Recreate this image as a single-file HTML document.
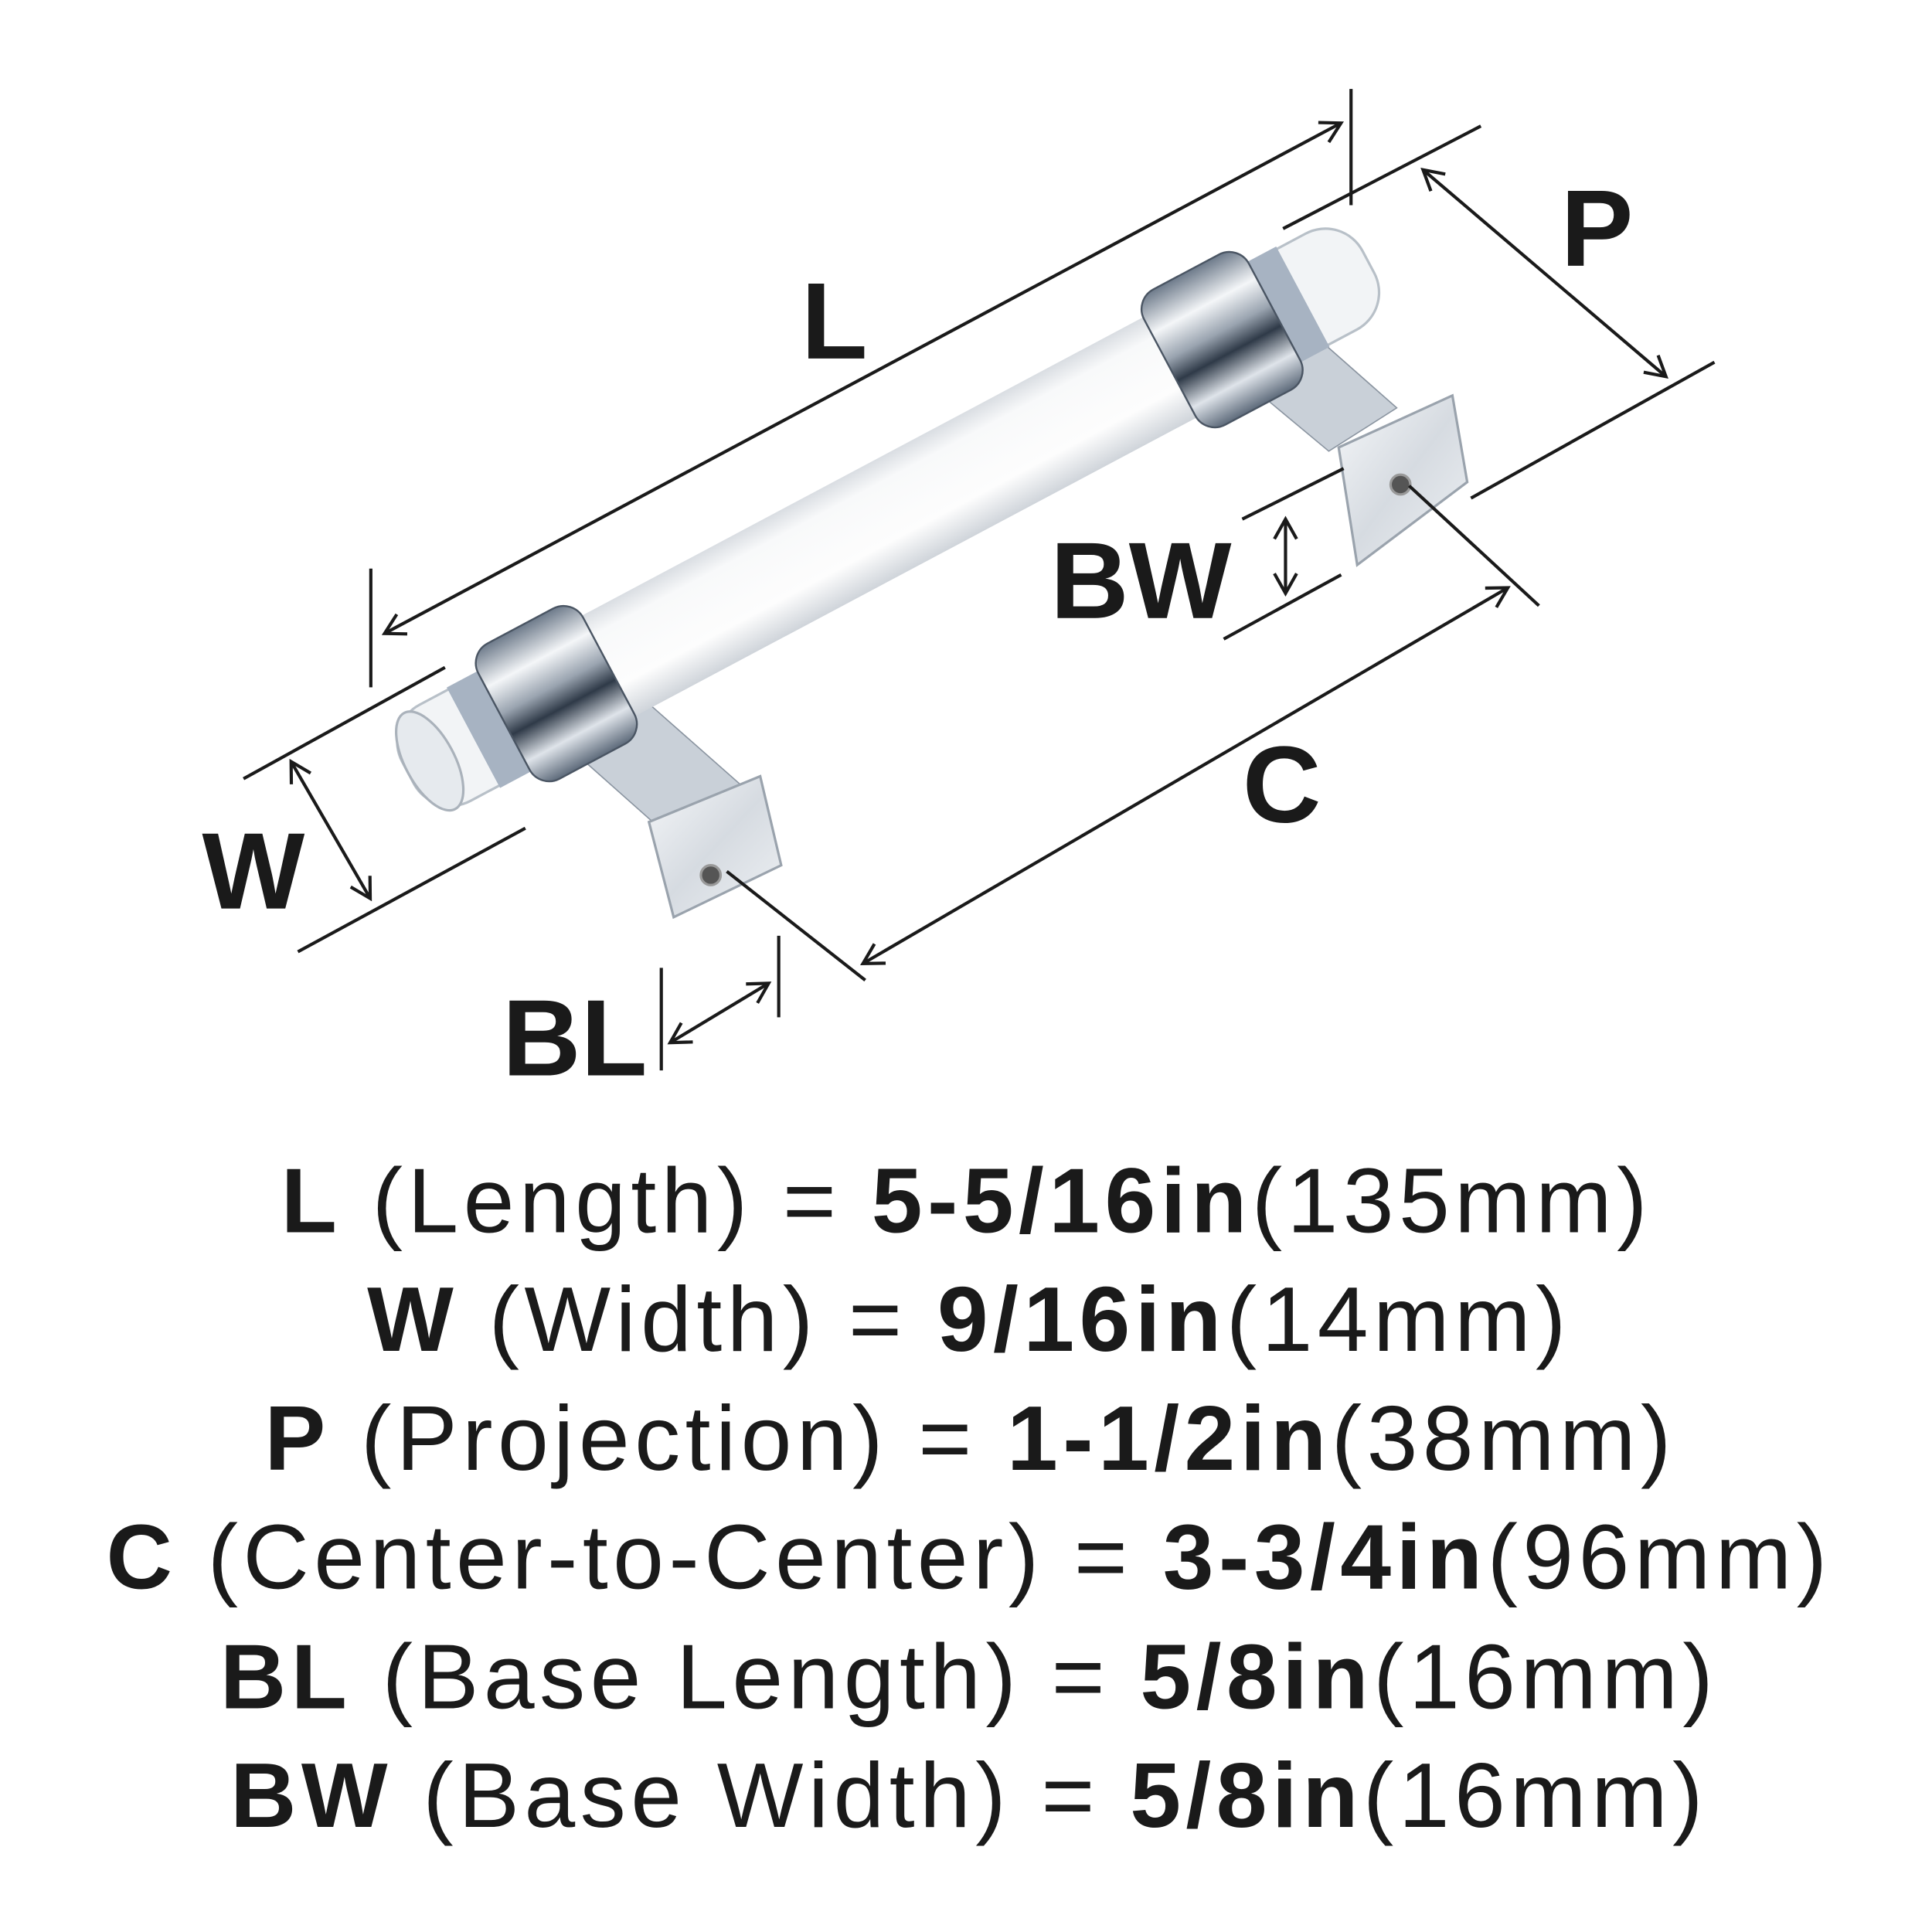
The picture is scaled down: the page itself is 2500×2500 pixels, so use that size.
<!DOCTYPE html>
<html><head><meta charset="utf-8"><style>
html,body{margin:0;padding:0;background:#fff;}
svg{display:block;}
</style></head><body>
<svg width="2500" height="2500" viewBox="0 0 1563 1563" xmlns="http://www.w3.org/2000/svg">
<defs>
<marker id="ah" markerWidth="22" markerHeight="22" refX="17" refY="11" orient="auto-start-reverse" markerUnits="userSpaceOnUse">
<path d="M2,2 L18,11 L2,20" fill="none" stroke="#1a1a1a" stroke-width="2.6"/>
</marker>
<linearGradient id="chrome" x1="0" y1="0" x2="0" y2="1">
<stop offset="0" stop-color="#6d7a8a"/><stop offset="0.25" stop-color="#f4f6f8"/><stop offset="0.45" stop-color="#9aa4b0"/><stop offset="0.6" stop-color="#2f3a48"/><stop offset="0.8" stop-color="#dfe4ea"/><stop offset="1" stop-color="#5d6a7a"/>
</linearGradient>
<linearGradient id="rod" x1="0" y1="0" x2="0" y2="1">
<stop offset="0" stop-color="#d9dde2"/><stop offset="0.2" stop-color="#f8f9fa"/><stop offset="0.7" stop-color="#fdfdfd"/><stop offset="1" stop-color="#cfd4da"/>
</linearGradient>
<linearGradient id="plate" x1="0" y1="0" x2="1" y2="1">
<stop offset="0" stop-color="#f5f7f9"/><stop offset="0.5" stop-color="#d6dbe1"/><stop offset="1" stop-color="#eef1f4"/>
</linearGradient>
</defs>

<polygon points="455,600 520,565 605,640 545,680" fill="#c9d0d8" stroke="#8a94a0" stroke-width="1"/>
<polygon points="985,290 1045,255 1130,330 1075,365" fill="#c9d0d8" stroke="#8a94a0" stroke-width="1"/>
<polygon points="525,665 615,628 632,700 545,742" fill="url(#plate)" stroke="#9aa3ad" stroke-width="2"/>
<polygon points="1083,362 1175,320 1187,390 1098,457" fill="url(#plate)" stroke="#9aa3ad" stroke-width="2"/>
<circle cx="575" cy="708" r="8" fill="#555" stroke="#999" stroke-width="2"/>
<circle cx="1133" cy="392" r="8" fill="#555" stroke="#999" stroke-width="2"/>

<g transform="translate(330,625) rotate(-28)">
<rect x="0" y="-44" width="880" height="88" rx="34" fill="#f2f4f6" stroke="#b8c0c8" stroke-width="2"/>
<rect x="170" y="-46" width="560" height="92" fill="url(#rod)"/>
<ellipse cx="20" cy="0" rx="20" ry="44" fill="#e6eaee" stroke="#aab2bb" stroke-width="2"/>
<rect x="60" y="-46" width="30" height="92" fill="#a7b3c2"/>
<rect x="790" y="-46" width="30" height="92" fill="#a7b3c2"/>
<rect x="88" y="-62" width="96" height="124" rx="18" fill="url(#chrome)" stroke="#4a5563" stroke-width="1.5"/>
<rect x="698" y="-62" width="96" height="124" rx="18" fill="url(#chrome)" stroke="#4a5563" stroke-width="1.5"/>
</g>

<g stroke="#1a1a1a" stroke-width="2.6" fill="none">
<line x1="312" y1="512" x2="1084" y2="100" marker-start="url(#ah)" marker-end="url(#ah)"/>
<line x1="300" y1="460" x2="300" y2="556"/>
<line x1="1093" y1="72" x2="1093" y2="166"/>
<line x1="1152" y1="138" x2="1347" y2="304" marker-start="url(#ah)" marker-end="url(#ah)"/>
<line x1="1038" y1="185" x2="1198" y2="102"/>
<line x1="1190" y1="403" x2="1387" y2="293"/>
<line x1="236" y1="617" x2="299" y2="726" marker-start="url(#ah)" marker-end="url(#ah)"/>
<line x1="197" y1="630" x2="360" y2="540"/>
<line x1="241" y1="770" x2="425" y2="670"/>
<line x1="543" y1="843" x2="621" y2="796" marker-start="url(#ah)" marker-end="url(#ah)"/>
<line x1="535" y1="783" x2="535" y2="866"/>
<line x1="630" y1="757" x2="630" y2="823"/>
<line x1="699" y1="779" x2="1219" y2="476" marker-start="url(#ah)" marker-end="url(#ah)"/>
<line x1="588" y1="705" x2="700" y2="793"/>
<line x1="1140" y1="393" x2="1245" y2="490"/>
<line x1="1040" y1="421" x2="1040" y2="479" marker-start="url(#ah)" marker-end="url(#ah)"/>
<line x1="1005" y1="420" x2="1087" y2="379"/>
<line x1="990" y1="517" x2="1085" y2="465"/>
</g>

<g font-family="Liberation Sans, sans-serif" font-weight="bold" font-size="88" fill="#1a1a1a" text-anchor="middle">
<text x="675" y="290">L</text>
<text x="1292" y="215">P</text>
<text x="205" y="735">W</text>
<text x="465" y="870">BL</text>
<text x="1037" y="665">C</text>
<text x="923" y="500">BW</text>
</g>

<g font-family="Liberation Sans, sans-serif" font-size="74" fill="#1a1a1a" text-anchor="middle" letter-spacing="4">
<text x="782" y="997"><tspan font-weight="bold">L</tspan> (Length) = <tspan font-weight="bold">5-5/16in</tspan>(135mm)</text>
<text x="784" y="1093"><tspan font-weight="bold">W</tspan> (Width) = <tspan font-weight="bold">9/16in</tspan>(14mm)</text>
<text x="785" y="1189"><tspan font-weight="bold">P</tspan> (Projection) = <tspan font-weight="bold">1-1/2in</tspan>(38mm)</text>
<text x="784" y="1285"><tspan font-weight="bold">C</tspan> (Center-to-Center) = <tspan font-weight="bold">3-3/4in</tspan>(96mm)</text>
<text x="784" y="1382"><tspan font-weight="bold">BL</tspan> (Base Length) = <tspan font-weight="bold">5/8in</tspan>(16mm)</text>
<text x="784" y="1478"><tspan font-weight="bold">BW</tspan> (Base Width) = <tspan font-weight="bold">5/8in</tspan>(16mm)</text>
</g>
</svg>
</body></html>
